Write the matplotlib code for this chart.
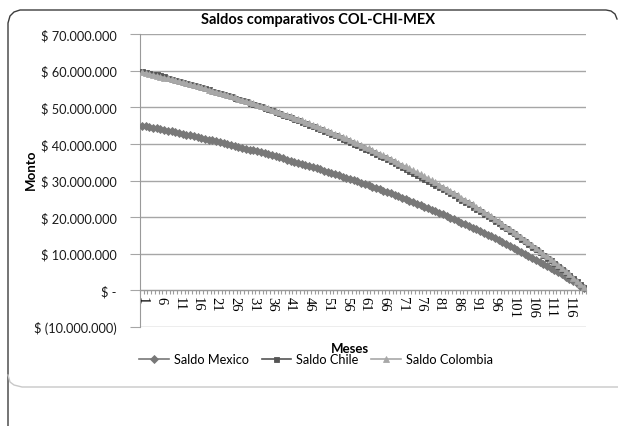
import matplotlib.pyplot as plt
from matplotlib.lines import Line2D
from matplotlib.ticker import FixedLocator, FuncFormatter

# Saldos (millones de pesos), meses 1..120
meses = list(range(1, 121))

saldo_mexico = [
    45.00, 44.81, 44.61, 44.41, 44.21, 44.00, 43.80, 43.59, 43.38, 43.17,
    42.95, 42.74, 42.52, 42.30, 42.08, 41.85, 41.62, 41.40, 41.17, 40.93,
    40.69, 40.45, 40.21, 39.97, 39.72, 39.48, 39.22, 38.97, 38.72, 38.46,
    38.20, 37.93, 37.67, 37.40, 37.13, 36.85, 36.57, 36.29, 36.01, 35.73,
    35.44, 35.15, 34.85, 34.56, 34.26, 33.95, 33.65, 33.34, 33.03, 32.71,
    32.39, 32.07, 31.74, 31.42, 31.08, 30.75, 30.41, 30.07, 29.73, 29.38,
    29.03, 28.67, 28.31, 27.95, 27.58, 27.21, 26.84, 26.46, 26.08, 25.70,
    25.31, 24.92, 24.52, 24.12, 23.71, 23.31, 22.89, 22.48, 22.06, 21.63,
    21.20, 20.77, 20.33, 19.89, 19.44, 18.99, 18.53, 18.07, 17.61, 17.14,
    16.66, 16.18, 15.70, 15.21, 14.72, 14.22, 13.72, 13.21, 12.69, 12.18,
    11.65, 11.12, 10.59, 10.05, 9.50, 8.95, 8.40, 7.84, 7.27, 6.70,
    6.12, 5.53, 4.94, 4.35, 3.74, 3.13, 2.52, 1.90, 1.27, 0.64,
]

saldo_chile = [
    60.00, 59.75, 59.48, 59.21, 58.95, 58.67, 58.40, 58.12, 57.84, 57.56,
    57.27, 56.99, 56.69, 56.40, 56.11, 55.80, 55.49, 55.20, 54.89, 54.57,
    54.25, 53.93, 53.61, 53.29, 52.96, 52.64, 52.29, 51.96, 51.63, 51.28,
    50.93, 50.57, 50.23, 49.87, 49.51, 49.13, 48.76, 48.39, 48.01, 47.64,
    47.25, 46.87, 46.47, 46.08, 45.68, 45.27, 44.87, 44.45, 44.04, 43.61,
    43.19, 42.76, 42.32, 41.89, 41.44, 41.00, 40.55, 40.09, 39.64, 39.17,
    38.71, 38.23, 37.75, 37.27, 36.77, 36.28, 35.79, 35.28, 34.77, 34.27,
    33.75, 33.23, 32.69, 32.16, 31.61, 31.08, 30.52, 29.97, 29.41, 28.84,
    28.27, 27.69, 27.11, 26.52, 25.92, 25.32, 24.71, 24.09, 23.48, 22.85,
    22.21, 21.57, 20.93, 20.28, 19.63, 18.96, 18.29, 17.61, 16.92, 16.24,
    15.53, 14.83, 14.12, 13.40, 12.67, 11.93, 11.20, 10.45, 9.69, 8.93,
    8.16, 7.37, 6.59, 5.80, 4.99, 4.17, 3.36, 2.53, 1.69, 0.85,
]

saldo_colombia = [
    59.60, 59.36, 59.12, 58.87, 58.62, 58.37, 58.11, 57.85, 57.59, 57.33,
    57.06, 56.79, 56.52, 56.25, 55.97, 55.69, 55.40, 55.12, 54.82, 54.53,
    54.23, 53.93, 53.63, 53.32, 53.01, 52.70, 52.38, 52.06, 51.74, 51.41,
    51.08, 50.74, 50.40, 50.06, 49.71, 49.37, 49.01, 48.65, 48.29, 47.93,
    47.56, 47.18, 46.80, 46.42, 46.04, 45.65, 45.25, 44.85, 44.45, 44.04,
    43.63, 43.21, 42.79, 42.36, 41.93, 41.50, 41.06, 40.61, 40.16, 39.70,
    39.24, 38.78, 38.31, 37.83, 37.35, 36.87, 36.38, 35.88, 35.38, 34.87,
    34.35, 33.83, 33.31, 32.78, 32.24, 31.70, 31.15, 30.60, 30.04, 29.47,
    28.90, 28.32, 27.74, 27.14, 26.54, 25.94, 25.33, 24.71, 24.09, 23.45,
    22.81, 22.17, 21.51, 20.85, 20.19, 19.51, 18.83, 18.14, 17.44, 16.74,
    16.03, 15.31, 14.58, 13.84, 13.09, 12.34, 11.58, 10.81, 10.03, 9.25,
    8.45, 7.65, 6.83, 6.01, 5.18, 4.34, 3.49, 2.63, 1.77, 0.89,
]

etiquetas_x = list(range(1, 117, 5))
ticks_y = [-10, 0, 10, 20, 30, 40, 50, 60, 70]

W, H = 618, 427
FONT = "Lato"


def fx(px):
    return px / W


def fy(py):
    return 1 - py / H


def pesos(v, _pos=None):
    n = int(round(v * 1e6))
    if n == 0:
        return "$ -"
    s = f"{abs(n):,}".replace(",", ".")
    return f"$ ({s})" if n < 0 else f"$ {s}"


fig = plt.figure(figsize=(W / 100, H / 100), dpi=100)
ax = fig.add_axes([fx(140), fy(328), fx(586) - fx(140), fy(35) - fy(328)])

series = [
    ("Saldo Mexico", saldo_mexico, "#787878", "D", 3.8),
    ("Saldo Chile", saldo_chile, "#555555", "s", 3.6),
    ("Saldo Colombia", saldo_colombia, "#a8a8a8", "^", 4.2),
]
for nombre, vals, color, mk, ms in series:
    ax.plot(meses, vals, color=color, lw=1.2, marker=mk, markersize=ms,
            markeredgewidth=0.6, markeredgecolor=color, label=nombre, zorder=3)

ax.set_xlim(0.5, 120.5)
ax.set_ylim(-10, 70)
ax.yaxis.set_major_locator(FixedLocator(ticks_y))
ax.yaxis.set_major_formatter(FuncFormatter(pesos))
ax.grid(axis="y", color="#a6a6a6", lw=1)
ax.set_axisbelow(True)

for side in ["top", "right"]:
    ax.spines[side].set_visible(False)
ax.spines["left"].set_color("#9a9a9a")
ax.spines["bottom"].set_position(("data", 0))
ax.spines["bottom"].set_color("#9a9a9a")

ax.set_xticks(etiquetas_x)
ax.set_xticks([m - 0.5 for m in meses] + [120.5], minor=True)
ax.tick_params(axis="x", which="major", length=0, pad=4, labelsize=10.5,
               labelrotation=-90, labelfontfamily="Liberation Serif")
ax.tick_params(axis="x", which="minor", length=3, color="#9a9a9a", width=0.8)
ax.tick_params(axis="y", length=7, color="#a6a6a6", pad=10, labelsize=9.2,
               labelfontfamily=FONT, labelcolor="#1a1a1a")
for t in ax.get_xticklabels():
    t.set_va("top")

fig.text(fx(318), fy(20), "Saldos comparativos COL-CHI-MEX", ha="center",
         va="center", fontsize=10.5, fontweight="bold", family=FONT)
fig.text(fx(31), fy(170), "Monto", rotation=90, ha="center", va="center",
         fontsize=9.5, fontweight="bold", family=FONT)
fig.text(fx(350), fy(349), "Meses", ha="center", va="center",
         fontsize=9.5, fontweight="bold", family=FONT)

fig.legend(loc="center", bbox_to_anchor=(fx(316), fy(360)), ncol=3,
           frameon=False, handlelength=2.3, columnspacing=1.0, handletextpad=0.4,
           prop={"family": FONT, "size": 9.2})

# marco del grafico (estilo Excel)
oscuro = "#3c3c3c"
claro = "#c8c8c8"
fig.add_artist(Line2D([fx(8), fx(8), fx(10), fx(14), fx(20), fx(606), fx(611), fx(615), fx(617)],
                      [fy(427), fy(24), fy(17), fy(13), fy(11), fy(11), fy(12), fy(15), fy(20)],
                      color=oscuro, lw=1))
fig.add_artist(Line2D([fx(8), fx(10), fx(14), fx(22), fx(618)],
                      [fy(376), fy(383), fy(386), fy(388), fy(388)],
                      color=claro, lw=1))

fig.savefig("out.png", dpi=100)
